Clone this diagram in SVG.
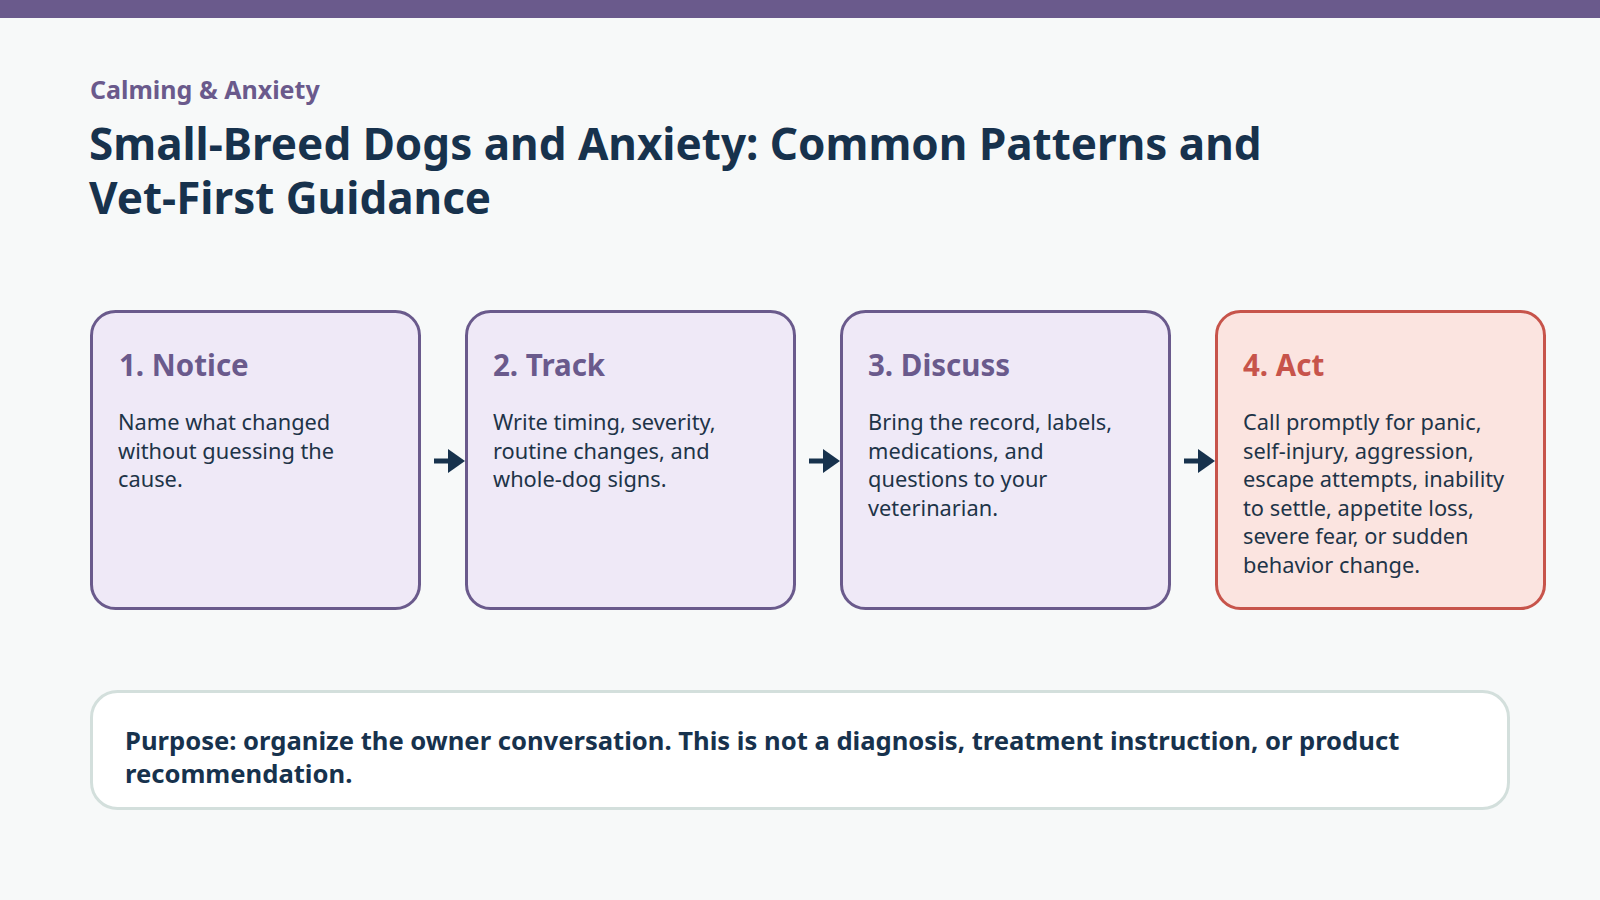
<svg xmlns="http://www.w3.org/2000/svg" width="1600" height="900" viewBox="0 0 1600 900">
<defs>
<style>
.bg{fill:#f7f9f9}
.bar{fill:#6a5a8c}
.kicker{font-family:"Noto Sans","Liberation Sans",sans-serif;font-weight:700;font-size:25px;fill:#6a5a8c}
.title{font-family:"Noto Sans","Liberation Sans",sans-serif;font-weight:700;font-size:44px;fill:#17324d}
.card{fill:#efe9f7;stroke:#6a5a8c;stroke-width:3}
.card.alert{fill:#fbe4e0;stroke:#c7544b}
.head{font-family:"Noto Sans","Liberation Sans",sans-serif;font-weight:700;font-size:29.5px;fill:#6a5a8c}
.head.alert{fill:#c7544b}
.body{font-family:"Noto Sans","Liberation Sans",sans-serif;font-size:21.8px;fill:#1e3448}
.note{fill:#ffffff;stroke:#d3dfdc;stroke-width:3}
.notetext{font-family:"Noto Sans","Liberation Sans",sans-serif;font-weight:700;font-size:25.6px;fill:#17324d}
.conn{stroke:#17324d;stroke-width:5;fill:none}
.head-arrow{fill:#17324d}
</style>
</defs>
<rect class="bg" x="0" y="0" width="1600" height="900"/>
<rect class="bar" x="0" y="0" width="1600" height="18"/>
<g id="header">
<text class="kicker" x="90" y="99">Calming &amp; Anxiety</text>
<text class="title" x="89" y="160"><tspan x="89" y="160">Small-Breed Dogs and Anxiety: Common Patterns and</tspan><tspan x="89" y="214">Vet-First Guidance</tspan></text>
</g>
<g id="connectors">
<path class="conn" d="M434,461 H450"/>
<path class="head-arrow" d="M448,449 L465,461 L448,473 Z"/>
<path class="conn" d="M809,461 H825"/>
<path class="head-arrow" d="M823,449 L840,461 L823,473 Z"/>
<path class="conn" d="M1184,461 H1200"/>
<path class="head-arrow" d="M1198,449 L1215,461 L1198,473 Z"/>
</g>
<g id="node-notice">
<rect class="card" x="91.5" y="311.5" width="328" height="297" rx="24"/>
<text class="head" x="119" y="376">1. Notice</text>
<text class="body" x="118" y="430">Name what changed</text>
<text class="body" x="118" y="458.5">without guessing the</text>
<text class="body" x="118" y="487">cause.</text>
</g>
<g id="node-track">
<rect class="card" x="466.5" y="311.5" width="328" height="297" rx="24"/>
<text class="head" x="493" y="376">2. Track</text>
<text class="body" x="493" y="430">Write timing, severity,</text>
<text class="body" x="493" y="458.5">routine changes, and</text>
<text class="body" x="493" y="487">whole-dog signs.</text>
</g>
<g id="node-discuss">
<rect class="card" x="841.5" y="311.5" width="328" height="297" rx="24"/>
<text class="head" x="868" y="376">3. Discuss</text>
<text class="body" x="868" y="430">Bring the record, labels,</text>
<text class="body" x="868" y="458.5">medications, and</text>
<text class="body" x="868" y="487">questions to your</text>
<text class="body" x="868" y="515.5">veterinarian.</text>
</g>
<g id="node-act">
<rect class="card alert" x="1216.5" y="311.5" width="328" height="297" rx="24"/>
<text class="head alert" x="1243" y="376">4. Act</text>
<text class="body" x="1243" y="430">Call promptly for panic,</text>
<text class="body" x="1243" y="458.5">self-injury, aggression,</text>
<text class="body" x="1243" y="487">escape attempts, inability</text>
<text class="body" x="1243" y="515.5">to settle, appetite loss,</text>
<text class="body" x="1243" y="544">severe fear, or sudden</text>
<text class="body" x="1243" y="572.5">behavior change.</text>
</g>
<g id="note">
<rect class="note" x="91.5" y="691.5" width="1417" height="117" rx="26"/>
<text class="notetext" x="125" y="750">Purpose: organize the owner conversation. This is not a diagnosis, treatment instruction, or product</text>
<text class="notetext" x="125" y="783">recommendation.</text>
</g>
</svg>
